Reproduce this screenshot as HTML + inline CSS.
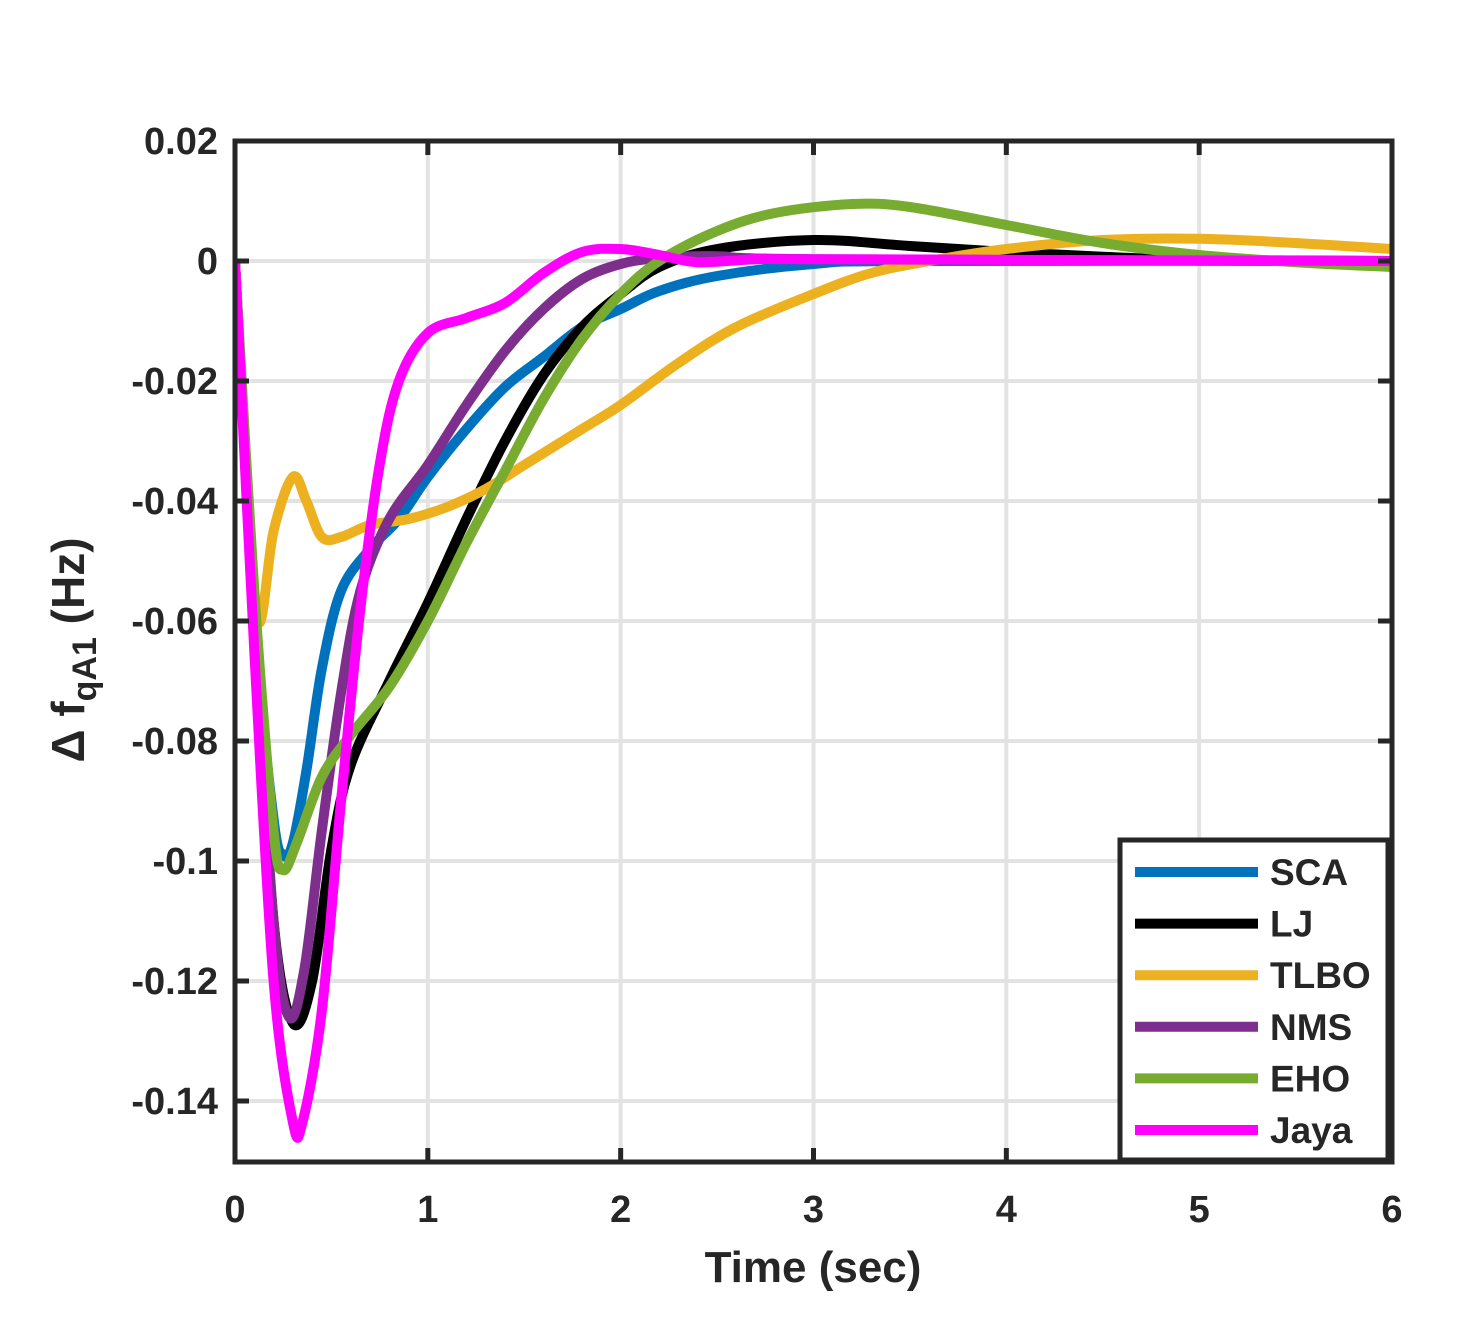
<!DOCTYPE html>
<html><head><meta charset="utf-8"><style>
body{margin:0;background:#fff}
svg text{font-family:"Liberation Sans",Arial,sans-serif;font-weight:bold;fill:#262626}
</style></head><body>
<svg id="chart" width="1459" height="1331" xmlns="http://www.w3.org/2000/svg">
<g id="grid"></g>
<g id="lines"></g>
<rect x="235" y="141" width="1157" height="1021" fill="none" stroke="#262626" stroke-width="5"/>
<g id="ticks"></g>
<text x="813" y="1282" font-size="44" text-anchor="middle">Time (sec)</text>
<text transform="translate(84,650) rotate(-90)" font-size="46" text-anchor="middle">Δ f<tspan font-size="34" dy="12">qA1</tspan><tspan dy="-12"> (Hz)</tspan></text>
<g id="legend">
<rect x="1120" y="840" width="268" height="320" fill="#fff" stroke="#262626" stroke-width="5"/>
</g>
</svg>
<script>
const xTicks=[0,1,2,3,4,5,6];
const yTicks=[0.02,0,-0.02,-0.04,-0.06,-0.08,-0.1,-0.12,-0.14];
const yTickLabels=["0.02","0","-0.02","-0.04","-0.06","-0.08","-0.1","-0.12","-0.14"];
const seriesNames=["SCA","LJ","TLBO","NMS","EHO","Jaya"];
const seriesColors=["#0072BD","#000000","#EDB120","#7E2F8E","#77AC30","#FF00FF"];
const tSCA=[0,0.1,0.2,0.25,0.3,0.37,0.45,0.55,0.7,0.85,1.0,1.2,1.4,1.6,1.8,2.0,2.2,2.5,3.0,3.5,6];
const vSCA=[0,-0.06,-0.093,-0.099,-0.097,-0.085,-0.068,-0.055,-0.048,-0.043,-0.036,-0.028,-0.021,-0.016,-0.011,-0.008,-0.005,-0.0025,-0.0005,0,0];
const tLJ=[0,0.1,0.2,0.3,0.4,0.5,0.6,0.8,1.0,1.2,1.4,1.6,1.8,2.0,2.2,2.5,3.0,3.5,4,4.5,5,6];
const vLJ=[0,-0.06,-0.11,-0.127,-0.12,-0.098,-0.084,-0.07,-0.057,-0.043,-0.03,-0.019,-0.011,-0.0055,-0.001,0.002,0.0035,0.0025,0.0015,0.0007,0.0002,0];
const tTLBO=[0,0.05,0.12,0.2,0.3,0.37,0.45,0.55,0.7,0.9,1.1,1.3,1.5,1.8,2.0,2.3,2.6,3.0,3.3,3.6,4,4.5,5,5.5,6];
const vTLBO=[0,-0.03,-0.06,-0.045,-0.036,-0.04,-0.046,-0.046,-0.044,-0.043,-0.041,-0.038,-0.034,-0.028,-0.024,-0.017,-0.011,-0.0055,-0.002,0,0.002,0.0035,0.0037,0.003,0.002];
const tNMS=[0,0.1,0.2,0.28,0.36,0.45,0.55,0.65,0.8,1.0,1.2,1.4,1.6,1.8,2.0,2.2,2.5,3,6];
const vNMS=[0,-0.06,-0.11,-0.126,-0.118,-0.095,-0.072,-0.055,-0.043,-0.034,-0.024,-0.015,-0.008,-0.003,-0.0005,0.0005,0.0008,0.0003,0];
const tEHO=[0,0.1,0.2,0.25,0.32,0.45,0.6,0.8,1.0,1.2,1.4,1.6,1.8,2.0,2.2,2.5,2.8,3.2,3.5,4,4.5,5,5.5,6];
const vEHO=[0,-0.055,-0.095,-0.1015,-0.097,-0.086,-0.079,-0.071,-0.06,-0.047,-0.035,-0.023,-0.013,-0.0055,0,0.005,0.008,0.0095,0.009,0.006,0.003,0.001,-0.0002,-0.001];
const tJaya=[0,0.1,0.2,0.3,0.35,0.45,0.55,0.65,0.75,0.85,1.0,1.2,1.4,1.6,1.8,2.0,2.2,2.4,2.7,3,6];
const vJaya=[0,-0.065,-0.12,-0.1435,-0.1435,-0.125,-0.09,-0.058,-0.034,-0.02,-0.012,-0.0095,-0.007,-0.002,0.0015,0.002,0.001,-0.0002,0.0003,0.0003,0];
const allT=[tSCA,tLJ,tTLBO,tNMS,tEHO,tJaya];
const allV=[vSCA,vLJ,vTLBO,vNMS,vEHO,vJaya];
const X=t=>235+t*(1157/6);
const Y=v=>261-v*6000;
const NS="http://www.w3.org/2000/svg";
const grid=document.getElementById('grid'),ticks=document.getElementById('ticks'),lines=document.getElementById('lines'),legend=document.getElementById('legend');
function mk(tag,attrs,parent){const e=document.createElementNS(NS,tag);for(const k in attrs)e.setAttribute(k,attrs[k]);parent.appendChild(e);return e;}
xTicks.forEach(t=>{
  const g=mk('line',{x1:X(t),x2:X(t),y1:141,y2:1162,stroke:'#e3e3e3','stroke-width':4},grid);
  
  
  const tk=mk('line',{x1:X(t),x2:X(t),y1:1162,y2:1148,stroke:'#262626','stroke-width':5},ticks);
  
  
  const tk2=mk('line',{x1:X(t),x2:X(t),y1:141,y2:155,stroke:'#262626','stroke-width':5},ticks);
  
  
  const tx=mk('text',{x:X(t),y:1222,'font-size':38,'text-anchor':'middle'},ticks);tx.textContent=t;
  
  
});
yTicks.forEach((v,i)=>{
  const g=mk('line',{x1:235,x2:1392,y1:Y(v),y2:Y(v),stroke:'#e3e3e3','stroke-width':4},grid);
  
  
  const tk=mk('line',{x1:235,x2:249,y1:Y(v),y2:Y(v),stroke:'#262626','stroke-width':5},ticks);
  
  
  const tk2=mk('line',{x1:1378,x2:1392,y1:Y(v),y2:Y(v),stroke:'#262626','stroke-width':5},ticks);
  
  
  const tx=mk('text',{x:218,y:Y(v)+13,'font-size':38,'text-anchor':'end'},ticks);tx.textContent=yTickLabels[i];
  
  
});
function pathFor(ts,vs){
  const p=ts.map((t,i)=>[X(t),Y(vs[i])]);
  let d=`M${p[0][0]},${p[0][1]}`;
  for(let i=0;i<p.length-1;i++){
    const p0=p[i-1]||p[i],p1=p[i],p2=p[i+1],p3=p[i+2]||p2;
    const c1=[p1[0]+(p2[0]-p0[0])/6,p1[1]+(p2[1]-p0[1])/6];
    const c2=[p2[0]-(p3[0]-p1[0])/6,p2[1]-(p3[1]-p1[1])/6];
    d+=` C${c1[0]},${c1[1]} ${c2[0]},${c2[1]} ${p2[0]},${p2[1]}`;
  }
  return d;
}
const cp=mk('clipPath',{id:'clip'},document.getElementById('chart'));
mk('rect',{x:235,y:141,width:1157,height:1021},cp);
lines.setAttribute('clip-path','url(#clip)');
seriesNames.forEach((n,i)=>{
  const pth=mk('path',{d:pathFor(allT[i],allV[i]),fill:'none',stroke:seriesColors[i],'stroke-width':10,'stroke-linejoin':'round'},lines);
  
  
  const y=872+i*51.6;
  const ll=mk('line',{x1:1135,x2:1258,y1:y,y2:y,stroke:seriesColors[i],'stroke-width':10},legend);
  
  
  const lt=mk('text',{x:1270,y:y+13,'font-size':37},legend);lt.textContent=n;
  
  
});
</script>
</body></html>
